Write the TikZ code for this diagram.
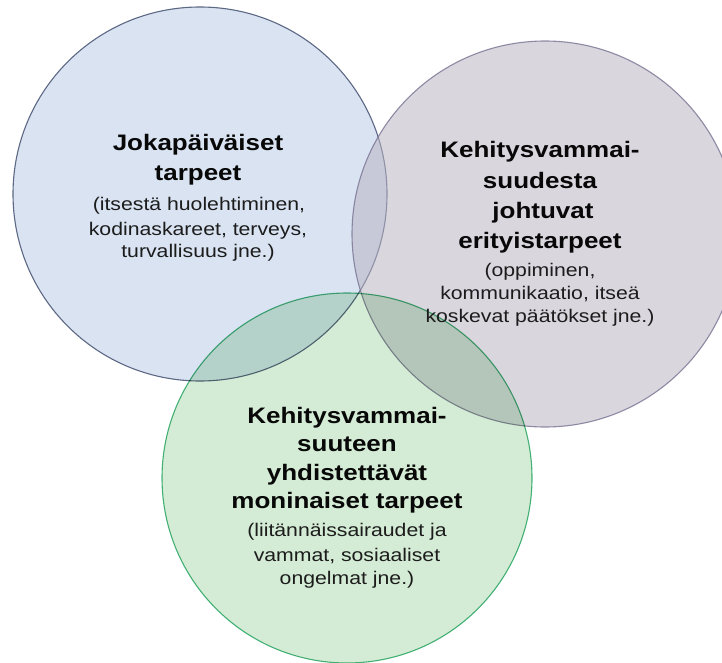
\documentclass[tikz,border=0pt]{standalone}
\usepackage{fontspec}
\newfontfamily\lsans[FakeStretch=1.16]{Liberation Sans}
\definecolor{bluefill}{RGB}{217,227,242}
\definecolor{blueline}{RGB}{92,104,132}
\definecolor{purplefill}{RGB}{185,179,194}
\definecolor{purpleline}{RGB}{120,114,145}
\definecolor{greenfill}{RGB}{212,236,213}
\definecolor{greenline}{RGB}{74,184,128}
\definecolor{titlecol}{RGB}{8,8,8}
\definecolor{bodycol}{RGB}{28,28,28}
\begin{document}
\begin{tikzpicture}[x=1pt,y=-1pt,
  circ/.style={circle, inner sep=0pt, line width=1.1pt},
  ttl/.style={font=\lsans\bfseries\fontsize{22.4}{26}\selectfont, anchor=base, inner sep=0pt, text=titlecol},
  bdy/.style={font=\lsans\fontsize{18.3}{22}\selectfont, anchor=base, inner sep=0pt, text=bodycol}]
\useasboundingbox (0,0) rectangle (722,663);
\node[circ, minimum size=374pt, fill=bluefill, draw=blueline] (cblue) at (200,194) {};
\node[circ, minimum size=386pt, fill=purplefill, draw=purpleline, fill opacity=0.54, draw opacity=0.8] (cpurple) at (545,234) {};
\begin{scope}[blend mode=multiply]
\node[circ, minimum size=370pt, fill=greenfill, draw=greenline] (cgreen) at (347,478) {};
\end{scope}
% blue circle texts
\node[ttl] (bt1) at (198,151) {Jokapäiväiset};
\node[ttl] (bt2) at (198,181) {tarpeet};
\node[bdy] (bb1) at (199,210) {(itsestä huolehtiminen,};
\node[bdy] (bb2) at (198,235) {kodinaskareet, terveys,};
\node[bdy] (bb3) at (198,257) {turvallisuus jne.)};
% purple circle texts
\node[ttl] (pt1) at (540,158) {Kehitysvammai-};
\node[ttl] (pt2) at (540,188) {suudesta};
\node[ttl] (pt3) at (543,218) {johtuvat};
\node[ttl] (pt4) at (540,248) {erityistarpeet};
\node[bdy] (pb1) at (540,276) {(oppiminen,};
\node[bdy] (pb2) at (540,299) {kommunikaatio, itseä};
\node[bdy] (pb3) at (540,322) {koskevat päätökset jne.)};
% green circle texts
\node[ttl] (gt1) at (347,423) {Kehitysvammai-};
\node[ttl] (gt2) at (347,451) {suuteen};
\node[ttl] (gt3) at (347,480) {yhdistettävät};
\node[ttl] (gt4) at (347,508) {moninaiset tarpeet};
\node[bdy] (gb1) at (347,536) {(liitännäissairaudet ja};
\node[bdy] (gb2) at (347,561) {vammat, sosiaaliset};
\node[bdy] (gb3) at (347,584) {ongelmat jne.)};
\end{tikzpicture}
\end{document}
